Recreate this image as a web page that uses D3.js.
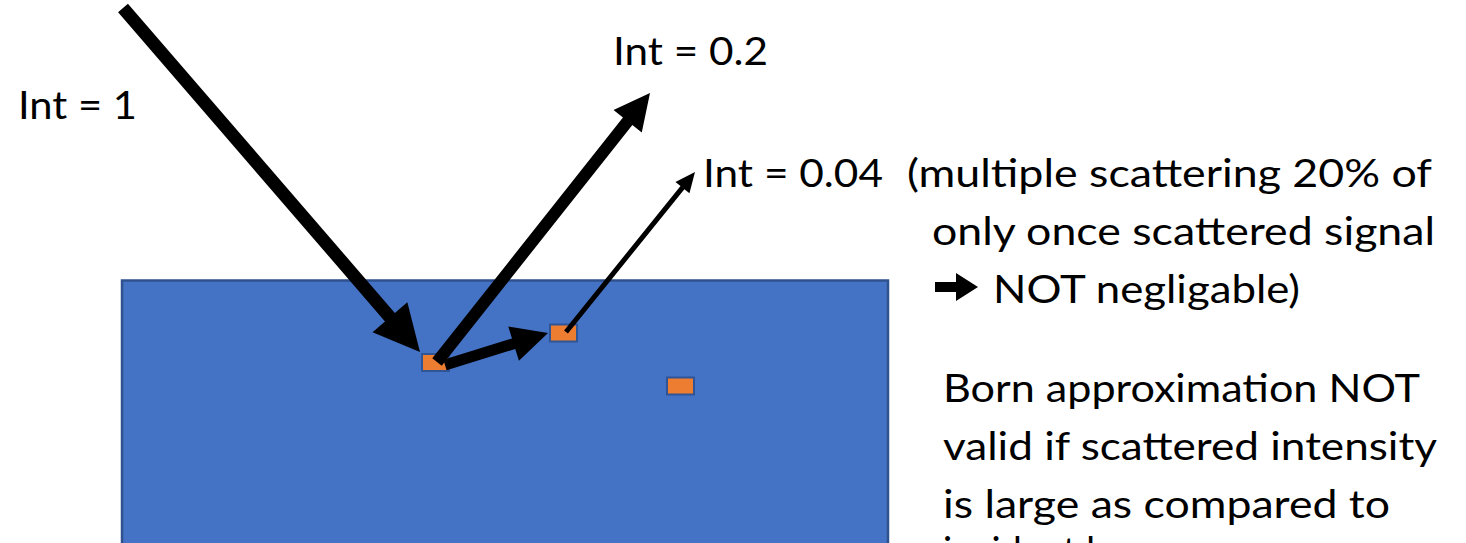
<!DOCTYPE html>
<html>
<head>
<meta charset="utf-8">
<script src="https://cdn.jsdelivr.net/npm/d3@7"></script>
<style>
  html, body { margin: 0; padding: 0; background: #fff; overflow: hidden; }
  text { font-family: Lato, "Noto Sans", sans-serif; fill: #000; }
</style>
</head>
<body>
<div id="diagram"></div>
<script>
var svgWidth = 1466;
var svgHeight = 543;

// Data
var intensities = ["Int = 1", "Int = 0.2", "Int = 0.04"];
var scatterers = ["s1", "s2", "s3"];
var noteLines = [
  "(multiple scattering 20% of",
  "only once scattered signal",
  "NOT negligable)"
];
var bornLines = [
  "Born approximation NOT",
  "valid if scattered intensity",
  "is large as compared to",
  "incident beam"
];

// Layout (diagram units)
var sample = { x: 122, y: 280.5, w: 766, h: 300 };
var scatterPos = [[422, 354], [550, 324.5], [667, 377.5]];
var arrowPaths = [
  { from: [123, 8], to: [420, 352], w: 13, head: 46, half: 23 },
  { from: [437, 362], to: [650, 93], w: 12, head: 36, half: 18 },
  { from: [445, 365], to: [548, 333], w: 11, head: 36, half: 18 },
  { from: [566, 332], to: [695, 172], w: 5, head: 20, half: 9 }
];
// bullet arrow in front of "NOT negligable)"
var bulletArrow = { from: [935, 287], to: [978, 287], w: 10, head: 22, half: 14 };
var intensityPos = [[18, 119, 119], [613, 65, 155], [703, 187, 180]];
var notePos = [[907, 187, 525], [932, 245, 503], [993, 303, 307]];
var bornPos = [[943, 402, 477], [943, 460, 494], [943, 518, 447], [943, 565, 0]];

var svg = d3.select("#diagram")
  .append("svg")
  .attr("width", svgWidth)
  .attr("height", svgHeight);

var x = d3.scaleLinear().domain([0, 1466]).range([0, svgWidth]);
var y = d3.scaleLinear().domain([0, 543]).range([0, svgHeight]);

// Sample block
svg.append("rect")
  .attr("x", x(sample.x))
  .attr("y", y(sample.y))
  .attr("width", x(sample.x + sample.w) - x(sample.x))
  .attr("height", y(sample.y + sample.h) - y(sample.y))
  .attr("fill", "#4472C4")
  .attr("stroke", "#2F528F")
  .attr("stroke-width", 2.5);

// Scatterers
svg.selectAll("rect.scat")
  .data(scatterers)
  .enter()
  .append("rect")
  .attr("class", "scat")
  .attr("x", (d, i) => x(scatterPos[i][0]))
  .attr("y", (d, i) => y(scatterPos[i][1]))
  .attr("width", 27)
  .attr("height", 17)
  .attr("fill", "#ED7D31")
  .attr("stroke", "#2F5597")
  .attr("stroke-width", 2);

// Arrows
function arrowPoints(a) {
  var x1 = x(a.from[0]), y1 = y(a.from[1]);
  var x2 = x(a.to[0]), y2 = y(a.to[1]);
  var len = Math.hypot(x2 - x1, y2 - y1);
  var ux = (x2 - x1) / len, uy = (y2 - y1) / len;
  var nx = -uy, ny = ux;
  var bx = x2 - ux * a.head, by = y2 - uy * a.head;
  var hw = a.w / 2;
  return [
    [x1 + nx * hw, y1 + ny * hw],
    [bx + nx * hw, by + ny * hw],
    [bx + nx * a.half, by + ny * a.half],
    [x2, y2],
    [bx - nx * a.half, by - ny * a.half],
    [bx - nx * hw, by - ny * hw],
    [x1 - nx * hw, y1 - ny * hw]
  ];
}

var line = d3.line();
svg.selectAll("path.arrow")
  .data(arrowPaths.concat([bulletArrow]))
  .enter()
  .append("path")
  .attr("class", "arrow")
  .attr("d", d => line(arrowPoints(d)) + "Z")
  .attr("fill", "#000");

// Labels
function addText(list, pos) {
  list.forEach(function (t, i) {
    var el = svg.append("text")
      .attr("x", x(pos[i][0]))
      .attr("y", y(pos[i][1]))
      .style("font-size", "38px")
      .text(t);
    if (pos[i][2] > 0) {
      el.attr("textLength", pos[i][2]).attr("lengthAdjust", "spacingAndGlyphs");
    }
  });
}
addText(intensities, intensityPos);
addText(noteLines, notePos);
addText(bornLines, bornPos);
</script>
</body>
</html>
